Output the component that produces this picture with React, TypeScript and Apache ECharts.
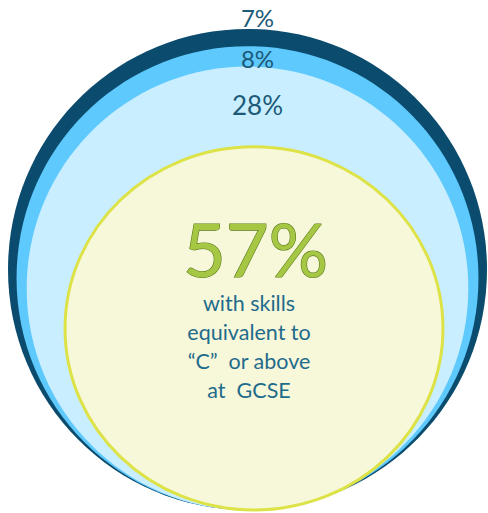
import React, { useEffect, useRef } from "react";
import * as echarts from "echarts";

// Shares (percent), from innermost to outermost band
const labels = ["57%", "28%", "8%", "7%"];
const shares = [57, 28, 8, 7];
const subtitleLines = ["with skills", "equivalent to", "\u201CC\u201D  or above", "at  GCSE"];

const fills = ["#f7f8da", "#c8eeff", "#5ec9fc", "#0b4b6e"];

export default function App() {
  const ref = useRef<HTMLDivElement>(null);
  useEffect(() => {
    if (!ref.current) return;
    const chart = echarts.init(ref.current, undefined, { renderer: "svg" });

    // cumulative totals, outermost first
    const cum: number[] = [];
    let acc = 0;
    shares.forEach((s) => {
      acc += s;
      cum.push(acc);
    });
    const data = shares
      .map((s, i) => ({ value: [cum[i], i], name: labels[i] }))
      .reverse();

    const labelOffsets = [-80, 38, 12, -12];
    const labelSizes = [74, 26, 24, 24];
    const textColor = "#1c5a78";

    chart.setOption({
      animation: false,
      grid: { left: 8, top: 29, width: 479, height: 481 },
      xAxis: { type: "value", min: -1, max: 1, show: false },
      yAxis: { type: "value", min: 0, max: 2, show: false },
      series: [
        {
          type: "custom",
          coordinateSystem: "cartesian2d",
          data,
          renderItem: (params: any, api: any) => {
            const total = api.value(0);
            const idx = api.value(1);
            const r = Math.sqrt(total / 100);
            const c = api.coord([0, r]);
            const sz = api.size([r, r]);
            const isCore = idx === 0;
            const cx = isCore ? c[0] + 6.5 : c[0];
            const rx = isCore ? sz[0] * 1.045 : sz[0];
            const children: any[] = [
              {
                type: "ellipse",
                shape: { cx, cy: c[1], rx, ry: sz[1] },
                style: isCore
                  ? { fill: fills[idx], stroke: "#dde246", lineWidth: 3 }
                  : { fill: fills[idx] },
              },
            ];
            const top = c[1] - sz[1];
            if (isCore) {
              children.push({
                type: "text",
                x: c[0] + 8,
                y: c[1] + labelOffsets[idx],
                style: {
                  text: labels[idx],
                  fontFamily: "Lato",
                  fontSize: labelSizes[idx],
                  fill: "#a6c744",
                  stroke: "#587818",
                  lineWidth: 1.2,
                  align: "center",
                  verticalAlign: "middle",
                },
                z2: 10,
              });
              subtitleLines.forEach((line, j) => {
                children.push({
                  type: "text",
                  x: c[0] + 1.5,
                  y: c[1] - 25 + j * 29,
                  style: {
                    text: line,
                    fontFamily: "Lato",
                    fontSize: 21.5,
                    fill: "#1f6b8c",
                    align: "center",
                    verticalAlign: "middle",
                  },
                  z2: 10,
                });
              });
            } else {
              children.push({
                type: "text",
                x: c[0] + 10,
                y: top + labelOffsets[idx],
                style: {
                  text: labels[idx],
                  fontFamily: "Lato",
                  fontSize: labelSizes[idx],
                  fill: textColor,
                  align: "center",
                  verticalAlign: "middle",
                },
                z2: 10,
              });
            }
            return { type: "group", children };
          },
        },
      ],
    });
    return () => chart.dispose();
  }, []);
  return (
    <div
      ref={ref}
      style={{ position: "fixed", left: 0, top: 0, width: 488, height: 513, background: "#fff" }}
    />
  );
}
